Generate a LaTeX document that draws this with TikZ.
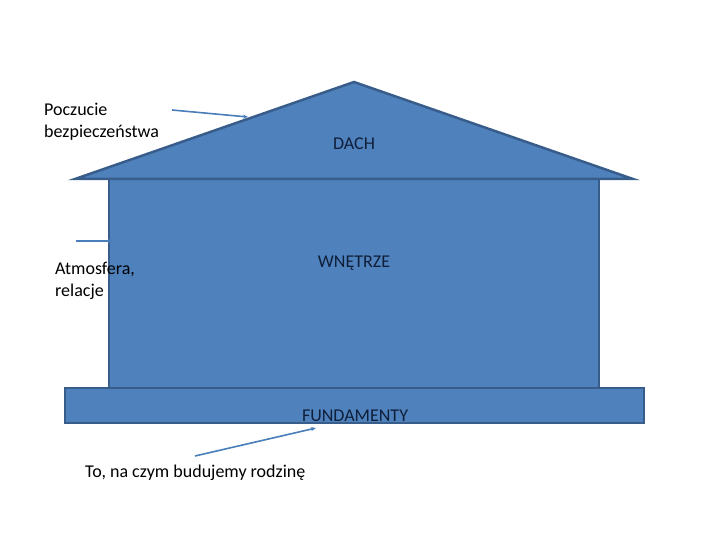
\documentclass[tikz,border=0pt]{standalone}
\usepackage{fontspec}
\setmainfont{Carlito}
\usetikzlibrary{arrows.meta}
\definecolor{fillblue}{HTML}{4F81BD}
\definecolor{edgeblue}{HTML}{385D8A}
\definecolor{arrowblue}{HTML}{4A7EBB}
\definecolor{darktext}{HTML}{0F1F3A}
\begin{document}
\begin{tikzpicture}[x=1pt,y=-1pt,
  part/.style={fill=fillblue,draw=edgeblue,line width=2.5pt,line join=miter},
  lbl/.style={font=\fontsize{18}{22}\selectfont,align=left,inner sep=0pt,text=black},
  inlbl/.style={font=\fontsize{18}{22}\selectfont,inner sep=0pt,text=darktext},
  pointer/.style={draw=arrowblue,line width=1.6pt,-{Stealth[length=5pt,width=4pt]}}]
\useasboundingbox (0,0) rectangle (720,540);
% body
\draw[part] (109,179) rectangle (599,388);
% roof
\draw[part] (75,179) -- (354,82) -- (633,179) -- cycle;
% foundation
\draw[part] (65,388) rectangle (644,423);
% inner labels
\node[inlbl] (dach) at (354,144) {DACH};
\node[inlbl] (wnetrze) at (354,263) {WNĘTRZE};
\node[inlbl] (fund) at (355,416) {FUNDAMENTY};
% outer labels
\node[lbl,anchor=west] (poczucie) at (44,122) {Poczucie\\bezpieczeństwa};
\node[lbl,anchor=west] (atmo) at (55,281) {Atmosfera,\\relacje};
\node[lbl,anchor=west] (to) at (85,473) {To, na czym budujemy rodzinę};
% arrow endpoints
\coordinate (a1s) at (172,110);
\coordinate (a1e) at (248,117);
\coordinate (a2s) at (76,241);
\coordinate (a2e) at (113,241);
\coordinate (a3s) at (195,456);
\coordinate (a3e) at (316,428);
\draw[pointer] (a1s) -- (a1e);
\draw[pointer] (a2s) -- (a2e);
\draw[pointer] (a3s) -- (a3e);
\end{tikzpicture}
\end{document}
